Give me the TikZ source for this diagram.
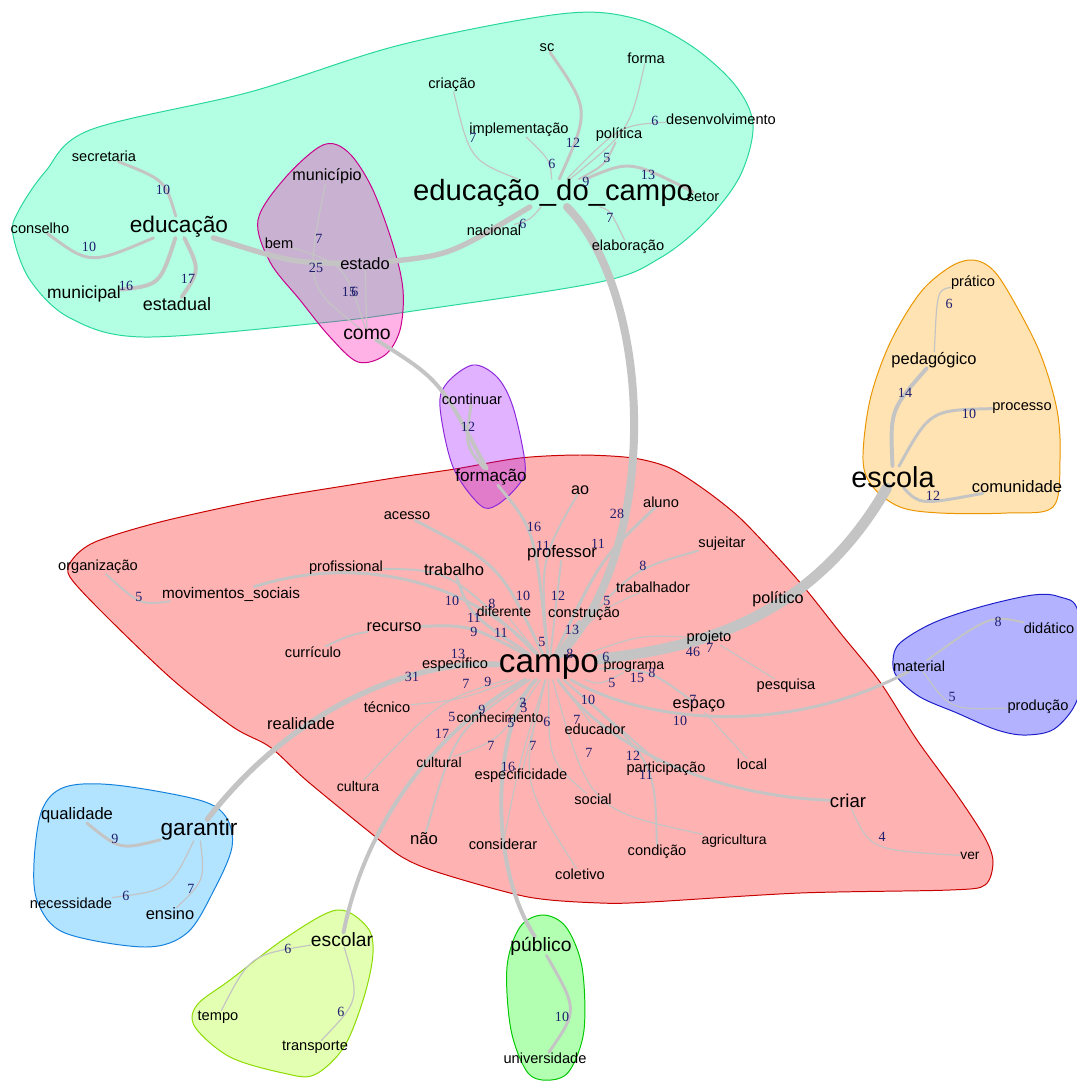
\documentclass[tikz,border=0pt]{standalone}
\usepackage{fontspec}
\setmainfont{Liberation Sans}
\newfontfamily\numfont{Liberation Serif}
\definecolor{cinza}{RGB}{196,196,196}
\definecolor{azul}{RGB}{30,30,110}
\definecolor{cverde}{RGB}{0,255,165}   \definecolor{bverde}{RGB}{40,215,155}
\definecolor{crosa}{RGB}{255,0,170}    \definecolor{brosa}{RGB}{200,0,140}
\definecolor{croxo}{RGB}{155,0,255}    \definecolor{broxo}{RGB}{140,40,220}
\definecolor{cverm}{RGB}{255,0,0}      \definecolor{bverm}{RGB}{200,0,0}
\definecolor{claranja}{RGB}{255,165,0} \definecolor{blaranja}{RGB}{235,150,0}
\definecolor{cazul}{RGB}{0,0,255}      \definecolor{bazul}{RGB}{30,30,200}
\definecolor{cceu}{RGB}{0,165,255}     \definecolor{bceu}{RGB}{20,130,220}
\definecolor{climao}{RGB}{165,255,0}   \definecolor{blimao}{RGB}{140,220,0}
\definecolor{cfolha}{RGB}{0,255,0}     \definecolor{bfolha}{RGB}{0,200,0}
\pgfdeclarelayer{fundo}
\pgfdeclarelayer{liens}
\pgfsetlayers{fundo,liens,main}

\begin{document}
\begin{tikzpicture}[x=0.025cm, y=-0.025cm,
    pal/.style={font=\fontsize{#1}{#1}\selectfont, inner sep=0pt},
    pal/.default=10.4,
    poids/.style={font=\numfont\fontsize{10}{10}\selectfont, text=azul, inner sep=0pt},
    lien/.style={draw=cinza, line cap=round},
    e1/.style={lien, line width=.85pt},
    e2/.style={lien, line width=1.4pt},
    e3/.style={lien, line width=2.1pt},
    e4/.style={lien, line width=2.8pt},
    e5/.style={lien, line width=3.8pt},
    e8/.style={lien, line width=5.7pt},
    e10/.style={lien, line width=7.5pt},
    halo/.style 2 args={fill=#1, fill opacity=.3, draw=#2, line width=.7pt}]
    \useasboundingbox (0,0) rectangle (1076,1082);

    % 词 (educação_do_campo)
    \node (secretaria) at (104,156) [pal] {secretaria};
    \node (conselho) at (40,228) [pal] {conselho};
    \node (educacao) at (179,227) [pal=16.1] {educação};
    \node (municipal) at (84,294) [pal=12.4] {municipal};
    \node (estadual) at (177,304) [pal=12.8] {estadual};
    \node (municipio) at (327,176) [pal=11.5] {município};
    \node (bem) at (279,243) [pal] {bem};
    \node (estado) at (365,264) [pal=11.7] {estado};
    \node (como) at (367,334) [pal=13.8] {como};
    \node (sc) at (547,48) [pal] {sc};
    \node (forma) at (646,58) [pal] {forma};
    \node (criacao) at (452,85) [pal] {criação};
    \node (implementacao) at (519,130) [pal] {implementação};
    \node (politica) at (619,135) [pal] {política};
    \node (desenvolvimento) at (721,119) [pal] {desenvolvimento};
    \node (edc) at (553,193) [pal=20.8] {educação\_do\_campo}; % 中心词
    \node (setor) at (703,197) [pal] {setor};
    \node (nacional) at (494,230) [pal] {nacional};
    \node (elaboracao) at (628,247) [pal] {elaboração};

    % 词 (continuar, escola, material, garantir, escolar, público)
    \node (continuar) at (472,399) [pal] {continuar};
    \node (formacao) at (491,477) [pal=12.2] {formação};
    \node (pratico) at (973,283) [pal] {prático};
    \node (pedagogico) at (934,360) [pal=11.7] {pedagógico};
    \node (processo) at (1022,408) [pal] {processo};
    \node (escola) at (893,477) [pal=20.5] {escola};
    \node (comunidade) at (1017,487) [pal=11.8] {comunidade};
    \node (material) at (919,666) [pal] {material};
    \node (didatico) at (1049,628) [pal] {didático};
    \node (producao) at (1038,707) [pal] {produção};
    \node (qualidade) at (77,815) [pal=11.8] {qualidade};
    \node (garantir) at (199,830) [pal=16.1] {garantir};
    \node (necessidade) at (71,903) [pal] {necessidade};
    \node (ensino) at (170,914) [pal=11.7] {ensino};
    \node (escolar) at (342,940) [pal=13.7] {escolar};
    \node (tempo) at (218,1017) [pal] {tempo};
    \node (transporte) at (315,1047) [pal] {transporte};
    \node (publico) at (541,946) [pal=13.7] {público};
    \node (universidade) at (545,1058) [pal] {universidade};

    % 词 (campo)
    \node (campo) at (549,667) [pal=23.7] {campo}; % 中心词
    \node (ao) at (580,490) [pal=11.5] {ao};
    \node (aluno) at (661,502) [pal] {aluno};
    \node (acesso) at (407,516) [pal] {acesso};
    \node (professor) at (562,553) [pal=11.9] {professor};
    \node (sujeitar) at (722,544) [pal] {sujeitar};
    \node (organizacao) at (98,567) [pal] {organização};
    \node (profissional) at (346,568) [pal] {profissional};
    \node (trabalho) at (454,570) [pal=11.8] {trabalho};
    \node (movimentos) at (231,594) [pal=10.9] {movimentos\_sociais};
    \node (trabalhador) at (653,587) [pal] {trabalhador};
    \node (politico) at (778,599) [pal=11.5] {político};
    \node (diferente) at (504,612) [pal=9.9] {diferente};
    \node (construcao) at (584,614) [pal] {construção};
    \node (recurso) at (394,627) [pal=11.7] {recurso};
    \node (curriculo) at (313,652) [pal] {currículo};
    \node (projeto) at (709,638) [pal] {projeto};
    \node (especifico) at (455,665) [pal] {específico};
    \node (programa) at (634,667) [pal=10.1] {programa};
    \node (pesquisa) at (786,686) [pal] {pesquisa};
    \node (realidade) at (301,724) [pal=11.7] {realidade};
    \node (tecnico) at (387,707) [pal] {técnico};
    \node (espaco) at (699,706) [pal=11.6] {espaço};
    \node (conhecimento) at (500,718) [pal=9.9] {conhecimento};
    \node (educador) at (595,729) [pal] {educador};
    \node (cultural) at (439,762) [pal=10] {cultural};
    \node (local) at (752,764) [pal] {local};
    \node (especificidade) at (521,776) [pal] {especificidade};
    \node (participacao) at (666,769) [pal] {participação};
    \node (cultura) at (358,786) [pal=10] {cultura};
    \node (social) at (593,799) [pal] {social};
    \node (criar) at (848,801) [pal=13.2] {criar};
    \node (nao) at (424,839) [pal=11.9] {não};
    \node (considerar) at (503,844) [pal] {considerar};
    \node (agricultura) at (734,841) [pal=9.9] {agricultura};
    \node (condicao) at (657,852) [pal] {condição};
    \node (coletivo) at (580,874) [pal] {coletivo};
    \node (ver) at (970,856) [pal=9.8] {ver};

    % 边权重
    \node (l1) at (163,190) [poids] {10};
    \node (l2) at (89,247) [poids] {10};
    \node (l3) at (126,286) [poids] {16};
    \node (l4) at (188,279) [poids] {17};
    \node (l5) at (319,239) [poids] {7};
    \node (l6) at (316,268) [poids] {25};
    \node (l7) at (349,292) [poids] {15};
    \node (l8) at (355,292) [poids] {6};
    \node (l9) at (473,138) [poids] {7};
    \node (l10) at (573,143) [poids] {12};
    \node (l11) at (552,164) [poids] {6};
    \node (l12) at (607,158) [poids] {5};
    \node (l13) at (655,121) [poids] {6};
    \node (l14) at (586,182) [poids] {9};
    \node (l15) at (648,175) [poids] {13};
    \node (l16) at (610,218) [poids] {7};
    \node (l17) at (523,224) [poids] {6};
    \node (l18) at (468,427) [poids] {12};
    \node (l19) at (949,304) [poids] {6};
    \node (l20) at (905,393) [poids] {14};
    \node (l21) at (969,414) [poids] {10};
    \node (l22) at (933,496) [poids] {12};
    \node (l23) at (998,622) [poids] {8};
    \node (l24) at (952,697) [poids] {5};
    \node (l25) at (115,839) [poids] {9};
    \node (l26) at (126,896) [poids] {6};
    \node (l27) at (191,889) [poids] {7};
    \node (l28) at (288,949) [poids] {6};
    \node (l29) at (341,1012) [poids] {6};
    \node (l30) at (562,1017) [poids] {10};
    \node (l31) at (534,527) [poids] {16};
    \node (l32) at (617,514) [poids] {28};
    \node (l33) at (543,546) [poids] {11};
    \node (l34) at (598,544) [poids] {11};
    \node (l35) at (643,566) [poids] {8};
    \node (l36) at (139,597) [poids] {5};
    \node (l37) at (452,601) [poids] {10};
    \node (l38) at (492,604) [poids] {8};
    \node (l39) at (523,596) [poids] {10};
    \node (l40) at (558,596) [poids] {12};
    \node (l41) at (607,601) [poids] {5};
    \node (l42) at (474,618) [poids] {11};
    \node (l43) at (474,632) [poids] {9};
    \node (l44) at (501,633) [poids] {11};
    \node (l45) at (572,630) [poids] {13};
    \node (l46) at (542,642) [poids] {5};
    \node (l47) at (458,654) [poids] {13};
    \node (l48) at (570,654) [poids] {8};
    \node (l49) at (606,657) [poids] {6};
    \node (l50) at (693,652) [poids] {46};
    \node (l51) at (710,648) [poids] {7};
    \node (l52) at (412,677) [poids] {31};
    \node (l53) at (466,684) [poids] {7};
    \node (l54) at (488,682) [poids] {9};
    \node (l55) at (612,683) [poids] {5};
    \node (l56) at (637,678) [poids] {15};
    \node (l57) at (652,673) [poids] {8};
    \node (l58) at (693,700) [poids] {7};
    \node (l59) at (680,721) [poids] {10};
    \node (l60) at (588,700) [poids] {10};
    \node (l61) at (482,710) [poids] {9};
    \node (l62) at (523,703) [poids] {3};
    \node (l63) at (524,708) [poids] {5};
    \node (l64) at (452,717) [poids] {5};
    \node (l65) at (511,723) [poids] {5};
    \node (l66) at (547,722) [poids] {6};
    \node (l67) at (577,720) [poids] {7};
    \node (l68) at (442,734) [poids] {17};
    \node (l69) at (491,746) [poids] {7};
    \node (l70) at (533,746) [poids] {7};
    \node (l71) at (589,753) [poids] {7};
    \node (l72) at (633,756) [poids] {12};
    \node (l73) at (646,775) [poids] {11};
    \node (l74) at (508,767) [poids] {16};
    \node (l75) at (882,837) [poids] {4};

    \begin{pgfonlayer}{liens}
    % educação_do_campo
    \draw[e3] (educacao) .. controls (165,180) .. (secretaria);
    \draw[e3] (educacao) .. controls (90,265) .. (conselho);
    \draw[e4] (educacao) .. controls (160,285) .. (municipal);
    \draw[e4] (educacao) .. controls (200,270) .. (estadual);
    \draw[e5] (educacao) .. controls (290,262) .. (estado);
    \draw[e5] (estado) .. controls (450,255) .. (edc);
    \draw[e1] (municipio) .. controls (305,285) .. (como);
    \draw[e1] (bem) .. controls (345,265) .. (como);
    \draw[e1] (estado) -- (como);
    \draw[e3] (edc) .. controls (590,110) .. (sc);
    \draw[e1] (edc) .. controls (470,160) .. (criacao);
    \draw[e1] (edc) .. controls (550,160) .. (implementacao);
    \draw[e1] (edc) .. controls (630,130) .. (forma);
    \draw[e2] (edc) .. controls (605,165) .. (politica);
    \draw[e1] (edc) .. controls (620,125) .. (desenvolvimento);
    \draw[e3] (edc) .. controls (630,160) .. (setor);
    \draw[e1] (edc) .. controls (610,210) .. (elaboracao);
    \draw[e1] (edc) .. controls (530,220) .. (nacional);
    \draw[e8] (edc) .. controls (650,290) and (665,540) .. (campo);
    % continuar
    \draw[e4] (como) .. controls (440,380) .. (formacao);
    \draw[e3] (continuar) .. controls (465,445) .. (formacao);
    \draw[e3] (formacao) .. controls (535,530) .. (campo);
    % campo
    \draw[e10] (campo) .. controls (660,650) and (800,640) .. (escola);
    \draw[e5] (campo) .. controls (420,660) and (300,700) .. (garantir);
    \draw[e4] (campo) .. controls (460,715) and (370,800) .. (escolar);
    \draw[e4] (campo) .. controls (495,720) and (485,860) .. (publico);
    \draw[e2] (campo) .. controls (540,560) .. (ao);
    \draw[e3] (campo) .. controls (600,560) .. (aluno);
    \draw[e3] (campo) .. controls (500,565) .. (acesso);
    \draw[e2] (campo) -- (professor);
    \draw[e2] (campo) .. controls (630,570) .. (sujeitar);
    \draw[e1] (campo) .. controls (600,610) .. (trabalhador);
    \draw[e3] (campo) -- (construcao);
    \draw[e1] (campo) -- (diferente);
    \draw[e3] (campo) .. controls (470,615) .. (trabalho);
    \draw[e2] (campo) .. controls (450,570) .. (profissional);
    \draw[e3] (campo) .. controls (480,590) and (370,550) .. (movimentos);
    \draw[e2] (movimentos) .. controls (140,605) .. (organizacao);
    \draw[e3] (campo) .. controls (470,625) .. (recurso);
    \draw[e2] (recurso) .. controls (350,635) .. (curriculo);
    \draw[e3] (campo) -- (especifico);
    \draw[e1] (campo) .. controls (460,700) .. (tecnico);
    \draw[e1] (campo) .. controls (440,700) .. (cultura);
    \draw[e1] (campo) .. controls (500,740) .. (cultural);
    \draw[e2] (campo) .. controls (455,730) .. (nao);
    \draw[e1] (campo) -- (conhecimento);
    \draw[e1] (campo) -- (especificidade);
    \draw[e1] (campo) .. controls (520,760) .. (considerar);
    \draw[e1] (campo) .. controls (520,780) .. (coletivo);
    \draw[e1] (campo) .. controls (548,760) .. (social);
    \draw[e1] (campo) -- (educador);
    \draw[e2] (campo) .. controls (610,720) .. (participacao);
    \draw[e3] (campo) .. controls (600,740) and (700,795) .. (criar);
    \draw[e1] (criar) .. controls (870,850) .. (ver);
    \draw[e2] (campo) .. controls (655,760) .. (condicao);
    \draw[e1] (campo) .. controls (590,810) .. (agricultura);
    \draw[e2] (campo) .. controls (650,670) .. (espaco);
    \draw[e1] (espaco) -- (local);
    \draw[e3] (campo) .. controls (640,720) and (780,740) .. (material);
    \draw[e1] (campo) .. controls (640,635) .. (projeto);
    \draw[e1] (projeto) -- (pesquisa);
    \draw[e1] (campo) .. controls (600,685) .. (programa);
    % escola, material, garantir, escolar, público
    \draw[e4] (escola) .. controls (890,410) .. (pedagogico);
    \draw[e1] (pedagogico) .. controls (937,290) .. (pratico);
    \draw[e3] (escola) .. controls (930,410) .. (processo);
    \draw[e3] (escola) .. controls (920,505) .. (comunidade);
    \draw[e2] (material) .. controls (990,615) .. (didatico);
    \draw[e1] (material) .. controls (950,710) .. (producao);
    \draw[e3] (garantir) .. controls (120,850) .. (qualidade);
    \draw[e1] (garantir) .. controls (170,890) .. (necessidade);
    \draw[e1] (garantir) .. controls (205,880) .. (ensino);
    \draw[e1] (escolar) .. controls (250,955) .. (tempo);
    \draw[e1] (escolar) .. controls (360,1000) .. (transporte);
    \draw[e3] (publico) .. controls (578,1010) .. (universidade);
    \end{pgfonlayer}

    \begin{pgfonlayer}{fundo}
    \fill[white] (0,0) rectangle (1076,1082);
    \draw[halo={cverde}{bverde}] plot[smooth cycle, tension=.55] coordinates {(13,235) (30,280) (70,318) (143,337) (320,323) (420,310) (600,282) (660,258) (705,222) (740,176) (753,125) (735,85) (690,45) (633,18) (560,14) (400,45) (250,92) (90,130) (45,172) (18,212)};
    \draw[halo={crosa}{brosa}] plot[smooth cycle, tension=.55] coordinates {(323,145) (348,152) (372,188) (393,245) (403,290) (400,330) (385,355) (358,362) (330,337) (300,300) (270,262) (258,220) (285,178)};
    \draw[halo={cverm}{bverm}] plot[smooth cycle, tension=.5] coordinates {(72,560) (95,542) (160,522) (260,500) (350,485) (400,477) (455,469) (520,458) (580,455) (633,458) (670,468) (705,490) (740,518) (780,560) (808,592) (842,635) (880,682) (917,740) (957,795) (985,838) (993,862) (985,885) (950,890) (800,893) (650,902) (600,903) (528,897) (440,873) (402,857) (367,830) (306,780) (270,747) (233,727) (173,680) (107,617) (70,577)};
    \draw[halo={croxo}{broxo}] plot[smooth cycle, tension=.55] coordinates {(473,365) (497,377) (513,407) (525,463) (520,483) (497,505) (480,505) (453,467) (440,407) (447,383)};
    \draw[halo={claranja}{blaranja}] plot[smooth cycle, tension=.55] coordinates {(973,260) (950,267) (920,293) (890,343) (870,400) (863,460) (873,487) (900,507) (940,513) (1007,513) (1053,507) (1060,460) (1057,410) (1040,353) (1013,300) (993,270)};
    \draw[halo={cazul}{bazul}] plot[smooth cycle, tension=.55] coordinates {(893,660) (900,643) (933,623) (980,607) (1033,595) (1060,597) (1078,612) (1080,690) (1057,727) (1027,735) (997,730) (957,713) (920,697) (897,677)};
    \draw[halo={cceu}{bceu}] plot[smooth cycle, tension=.55] coordinates {(42,810) (65,787) (115,785) (199,800) (226,817) (232,847) (214,890) (187,933) (145,947) (65,933) (38,903) (34,863)};
    \draw[halo={climao}{blimao}] plot[smooth cycle, tension=.55] coordinates {(337,910) (367,927) (373,953) (364,997) (344,1047) (314,1075) (283,1073) (230,1057) (195,1027) (197,1005) (230,980) (287,937)};
    \draw[halo={cfolha}{bfolha}] plot[smooth cycle, tension=.55] coordinates {(543,915) (566,927) (582,967) (584,1030) (570,1070) (551,1080) (528,1073) (511,1030) (507,967) (520,927)};
    \end{pgfonlayer}
\end{tikzpicture}
\end{document}
